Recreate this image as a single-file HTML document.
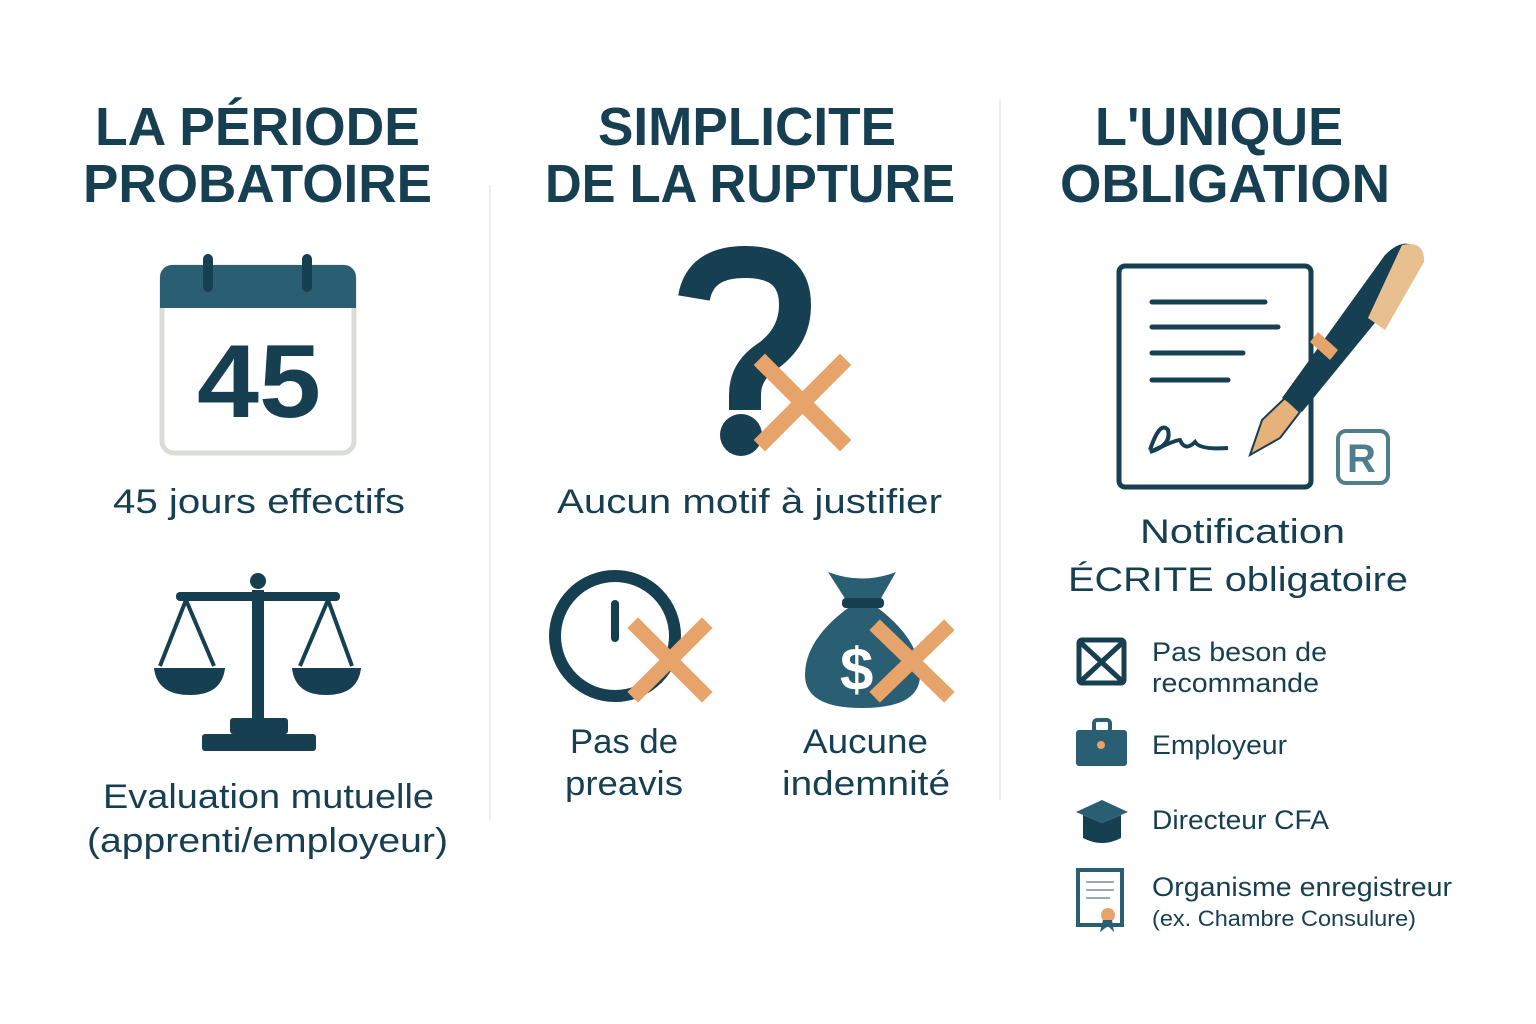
<!DOCTYPE html>
<html><head><meta charset="utf-8"><style>
html,body{margin:0;padding:0;background:#fff}
svg{display:block}
text{font-family:"Liberation Sans","DejaVu Sans",sans-serif;fill:#173f52}
.t{font-weight:bold;font-size:54px}
.l{font-size:34px}
.s{font-size:27px}
</style></head><body>
<svg width="1536" height="1024" viewBox="0 0 1536 1024" xmlns="http://www.w3.org/2000/svg">
<rect width="1536" height="1024" fill="#fff"/>
<line x1="490" y1="185" x2="490" y2="820" stroke="#eceeee" stroke-width="2"/>
<line x1="1000" y1="100" x2="1000" y2="800" stroke="#eceeee" stroke-width="2"/>

<text class="t" x="95" y="145" textLength="325" lengthAdjust="spacingAndGlyphs">LA PÉRIODE</text>
<text class="t" x="83" y="202" textLength="349" lengthAdjust="spacingAndGlyphs">PROBATOIRE</text>
<text class="t" x="598" y="145" textLength="298" lengthAdjust="spacingAndGlyphs">SIMPLICITE</text>
<text class="t" x="545" y="202" textLength="410" lengthAdjust="spacingAndGlyphs">DE LA RUPTURE</text>
<text class="t" x="1095" y="145" textLength="248" lengthAdjust="spacingAndGlyphs">L'UNIQUE</text>
<text class="t" x="1060" y="202" textLength="330" lengthAdjust="spacingAndGlyphs">OBLIGATION</text>

<rect x="162" y="267" width="192" height="186" rx="12" fill="#fff" stroke="#d9ddd6" stroke-width="5"/>
<path d="M160 308 V277 a12 12 0 0 1 12 -12 H344 a12 12 0 0 1 12 12 V308 Z" fill="#2a5e72"/>
<rect x="203" y="254" width="10" height="38" rx="5" fill="#173f52"/>
<rect x="302" y="254" width="10" height="38" rx="5" fill="#173f52"/>
<text x="197" y="417" font-weight="bold" font-size="104" textLength="124" lengthAdjust="spacingAndGlyphs">45</text>
<text class="l" x="113" y="513" textLength="292" lengthAdjust="spacingAndGlyphs">45 jours effectifs</text>

<g fill="#173f52" stroke="#173f52">
<circle cx="258" cy="581" r="8" stroke="none"/>
<rect x="176" y="592" width="164" height="9" rx="4" stroke="none"/>
<rect x="252" y="590" width="12" height="135" stroke="none"/>
<rect x="230" y="718" width="58" height="16" rx="3" stroke="none"/>
<rect x="202" y="734" width="114" height="17" rx="3" stroke="none"/>
<path d="M186 600 L160 666 M186 600 L214 666 M328 600 L300 666 M328 600 L352 666" stroke-width="4" fill="none"/>
<path d="M154 668 H225 Q222 695 190 695 Q157 695 154 668Z" stroke="none"/>
<path d="M292 668 H361 Q358 695 326 695 Q295 695 292 668Z" stroke="none"/>
</g>
<text class="l" x="103" y="808" textLength="331" lengthAdjust="spacingAndGlyphs">Evaluation mutuelle</text>
<text class="l" x="87" y="852" textLength="361" lengthAdjust="spacingAndGlyphs">(apprenti/employeur)</text>

<path d="M694 298 Q700 262 745 262 Q795 262 795 305 Q795 338 765 358 Q745 372 745 395 L745 410" fill="none" stroke="#173f52" stroke-width="32"/>
<circle cx="741" cy="435" r="21" fill="#173f52"/>
<g stroke="#e6a36a" stroke-width="16" stroke-linecap="square"><line x1="765" y1="365" x2="840" y2="440"/><line x1="840" y1="365" x2="765" y2="440"/></g>
<text class="l" x="557" y="513" textLength="385" lengthAdjust="spacingAndGlyphs">Aucun motif à justifier</text>

<circle cx="615" cy="636" r="60" fill="none" stroke="#173f52" stroke-width="12"/>
<rect x="611" y="600" width="8" height="42" rx="4" fill="#173f52"/>
<g stroke="#e6a36a" stroke-width="15" stroke-linecap="square"><line x1="638" y1="628" x2="702" y2="692"/><line x1="702" y1="628" x2="638" y2="692"/></g>
<text class="l" x="570" y="753" textLength="108" lengthAdjust="spacingAndGlyphs">Pas de</text>
<text class="l" x="565" y="795" textLength="118" lengthAdjust="spacingAndGlyphs">preavis</text>

<path d="M828 572 Q862 585 896 572 L880 600 L846 600 Z" fill="#2a5e72"/>
<rect x="842" y="598" width="42" height="10" rx="4" fill="#173f52"/>
<path d="M848 608 Q805 640 805 675 Q805 708 862 708 Q920 708 920 675 Q920 640 878 608 Z" fill="#2a5e72"/>
<text x="840" y="690" font-weight="bold" font-size="60" style="fill:#fff">$</text>
<g stroke="#e6a36a" stroke-width="15" stroke-linecap="square"><line x1="880" y1="630" x2="944" y2="692"/><line x1="944" y1="630" x2="880" y2="692"/></g>
<text class="l" x="803" y="753" textLength="125" lengthAdjust="spacingAndGlyphs">Aucune</text>
<text class="l" x="782" y="795" textLength="168" lengthAdjust="spacingAndGlyphs">indemnité</text>

<rect x="1119" y="266" width="192" height="221" rx="6" fill="#fff" stroke="#173f52" stroke-width="5"/>
<g stroke="#173f52" stroke-width="5" stroke-linecap="round">
<line x1="1152" y1="302" x2="1265" y2="302"/><line x1="1152" y1="327" x2="1278" y2="327"/>
<line x1="1152" y1="353" x2="1243" y2="353"/><line x1="1152" y1="380" x2="1228" y2="380"/>
</g>
<path d="M1150 450 Q1160 420 1168 430 Q1172 445 1150 452 Q1175 440 1180 440 Q1185 452 1195 442 Q1200 450 1228 448" fill="none" stroke="#173f52" stroke-width="4"/>
<path d="M1250 455 L1262 420 L1285 398 L1300 412 L1280 438 Z" fill="#e6b27a" stroke="#173f52" stroke-width="2"/>
<path d="M1282 398 L1385 255 Q1405 235 1418 250 Q1425 265 1410 280 L1302 412 Z" fill="#173f52"/>
<path d="M1318 332 L1338 350 L1330 360 L1310 342 Z" fill="#e6a36a"/>
<path d="M1402 245 Q1425 240 1424 262 L1385 330 L1368 318 Z" fill="#e8c090"/>
<rect x="1338" y="431" width="50" height="52" rx="8" fill="#fff" stroke="#4f7f8c" stroke-width="4"/>
<text x="1347" y="472" font-weight="bold" font-size="40" style="fill:#4f7f8c">R</text>
<text class="l" x="1140" y="543" textLength="205" lengthAdjust="spacingAndGlyphs">Notification</text>
<text class="l" x="1068" y="591" textLength="340" lengthAdjust="spacingAndGlyphs">ÉCRITE obligatoire</text>

<rect x="1079" y="640" width="45" height="43" rx="3" fill="#fff" stroke="#173f52" stroke-width="5"/>
<path d="M1081 643 L1122 681 M1122 643 L1081 681" stroke="#173f52" stroke-width="5"/>
<rect x="1076" y="730" width="51" height="36" rx="3" fill="#2a5e72"/>
<rect x="1094" y="720" width="16" height="12" rx="3" fill="none" stroke="#2a5e72" stroke-width="4"/>
<circle cx="1101" cy="745" r="4" fill="#e6a36a"/>
<path d="M1076 812 L1102 800 L1128 812 L1102 823 Z" fill="#2a5e72"/>
<path d="M1083 815 V838 Q1102 848 1121 838 V815 L1102 823 Z" fill="#173f52"/>
<rect x="1078" y="870" width="44" height="55" fill="#fff" stroke="#2a5e72" stroke-width="4"/>
<g stroke="#9ab" stroke-width="2"><line x1="1086" y1="882" x2="1114" y2="882"/><line x1="1086" y1="890" x2="1114" y2="890"/><line x1="1086" y1="898" x2="1110" y2="898"/></g>
<circle cx="1108" cy="915" r="7" fill="#e6a36a"/>
<path d="M1103 920 L1100 932 L1108 926 L1114 932 L1112 920Z" fill="#2a5e72"/>

<text class="s" x="1152" y="661" textLength="175" lengthAdjust="spacingAndGlyphs">Pas beson de</text>
<text class="s" x="1152" y="692" textLength="167" lengthAdjust="spacingAndGlyphs">recommande</text>
<text class="s" x="1152" y="754" textLength="135" lengthAdjust="spacingAndGlyphs">Employeur</text>
<text class="s" x="1152" y="829" textLength="177" lengthAdjust="spacingAndGlyphs">Directeur CFA</text>
<text class="s" x="1152" y="896" textLength="300" lengthAdjust="spacingAndGlyphs">Organisme enregistreur</text>
<text x="1152" y="926" font-size="22" textLength="264" lengthAdjust="spacingAndGlyphs">(ex. Chambre Consulure)</text>
</svg>
</body></html>
